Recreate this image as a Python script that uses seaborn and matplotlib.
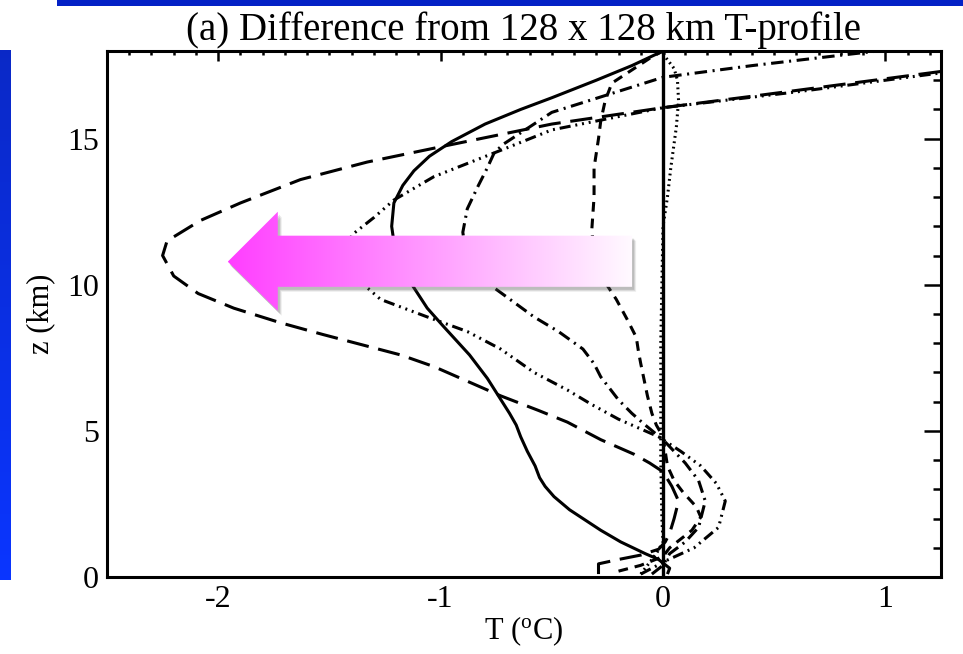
import numpy as np
import pandas as pd
import matplotlib
matplotlib.use("Agg")
import matplotlib.pyplot as plt
import seaborn as sns
from matplotlib.patches import Polygon, Rectangle
from matplotlib.ticker import MultipleLocator
from matplotlib import transforms

# Temperature difference profiles (deg C) against height z (km)
z_solid = [0.1, 0.3, 0.6, 0.8, 1.2, 1.6, 1.9, 2.3, 2.75, 3.1, 3.4, 3.8, 4.3, 4.8, 5.2, 5.6,
           6.2, 6.8, 7.6, 8.6, 9.2, 9.9, 10.5, 11.2, 12.0, 12.8, 13.4, 13.9, 14.4, 14.9,
           15.5, 16.0, 16.4, 17.0, 17.5, 18.0]
t_solid = [0.02, 0.03, -0.02, -0.08, -0.19, -0.28, -0.34, -0.42, -0.49, -0.53, -0.555, -0.575,
           -0.61, -0.64, -0.66, -0.69, -0.74, -0.79, -0.87, -0.99, -1.06, -1.12, -1.17, -1.205,
           -1.22, -1.21, -1.17, -1.12, -1.05, -0.95, -0.80, -0.64, -0.50, -0.30, -0.14, 0.0]

z_long = [0.1, 0.45, 0.6, 0.75, 0.95, 1.2, 1.5, 2.0, 2.6, 3.1, 3.6, 3.9, 4.2, 4.7, 5.3, 5.7,
          6.2, 6.7, 7.2, 7.6, 7.9, 8.3, 8.7, 9.2, 9.7, 10.3, 11.0, 11.5, 12.2, 12.8, 13.6,
          14.2, 14.8, 15.5, 16.06, 16.5, 16.9, 17.3, 17.6]
t_long = [-0.29, -0.29, -0.20, -0.10, -0.02, 0.01, 0.03, 0.05, 0.07, 0.04, 0.0, -0.06, -0.13,
          -0.28, -0.43, -0.56, -0.73, -0.88, -1.03, -1.18, -1.33, -1.53, -1.72, -1.93, -2.09,
          -2.20, -2.25, -2.23, -2.08, -1.90, -1.63, -1.33, -0.95, -0.50, 0.0, 0.45, 0.85,
          1.25, 1.55]

z_dash3dot = [0.1, 0.3, 0.58, 1.0, 1.7, 2.6, 3.2, 3.8, 4.3, 4.8, 5.4, 5.9, 6.4, 7.0, 7.8, 8.4,
              8.9, 9.5, 9.9, 10.5, 11.0, 11.7, 12.3, 12.9, 13.7, 14.6, 15.3, 16.06, 16.6,
              17.1, 17.4]
t_dash3dot = [-0.10, -0.05, 0.02, 0.14, 0.25, 0.28, 0.24, 0.17, 0.08, -0.02, -0.20, -0.32,
              -0.43, -0.58, -0.73, -0.88, -1.06, -1.27, -1.33, -1.38, -1.42, -1.40, -1.30,
              -1.21, -1.03, -0.73, -0.50, 0.0, 0.60, 1.10, 1.40]

z_dashdot = [0.1, 0.4, 0.8, 1.2, 1.7, 2.6, 3.3, 3.9, 4.3, 4.7, 5.2, 5.6, 6.06, 6.85, 7.3, 7.8,
             8.4, 8.9, 9.4, 9.9, 10.5, 11.2, 11.8, 12.6, 13.4, 14.0, 14.5, 14.8, 15.3, 15.9,
             16.5, 17.1, 17.5, 17.9, 18.2]
t_dashdot = [-0.05, 0.0, 0.03, 0.10, 0.16, 0.19, 0.16, 0.10, 0.05, 0.0, -0.08, -0.14, -0.20,
             -0.28, -0.31, -0.36, -0.47, -0.58, -0.67, -0.76, -0.84, -0.89, -0.90, -0.88,
             -0.83, -0.79, -0.76, -0.72, -0.62, -0.50, -0.25, 0.0, 0.40, 0.85, 1.20]

z_short = [0.2, 0.4, 0.7, 1.0, 1.3, 1.6, 2.05, 2.4, 2.9, 3.3, 3.8, 4.3, 4.8, 5.2, 5.6, 6.2,
           6.75, 7.3, 7.7, 8.2, 8.8, 9.5, 10.2, 11.0, 11.9, 13.0, 14.0, 15.0, 15.6, 16.3,
           16.9, 17.3, 17.8, 18.0]
t_short = [-0.20, -0.10, 0.0, 0.03, 0.08, 0.13, 0.17, 0.15, 0.09, 0.05, 0.02, 0.01, 0.0,
           -0.03, -0.05, -0.07, -0.085, -0.10, -0.11, -0.12, -0.16, -0.21, -0.27, -0.31,
           -0.32, -0.31, -0.31, -0.29, -0.28, -0.26, -0.23, -0.15, -0.05, 0.0]

z_dotted = [0.1, 0.3, 0.5, 0.8, 1.2, 2.0, 4.0, 8.0, 12.0, 13.0, 14.0, 15.4, 16.3, 17.0, 17.4,
            17.8, 18.0]
t_dotted = [-0.10, -0.08, -0.06, -0.03, 0.0, -0.005, -0.01, -0.01, 0.0, 0.02, 0.035, 0.06,
            0.07, 0.065, 0.05, 0.01, 0.0]

z_ref = [0.0, 18.0]
t_ref = [0.0, 0.0]

x_ticks = [-2, -1, 0, 1]
y_ticks = [0, 5, 10, 15]

profiles = {
    "solid": (z_solid, t_solid),
    "long dash": (z_long, t_long),
    "dash dot dot dot": (z_dash3dot, t_dash3dot),
    "dash dot": (z_dashdot, t_dashdot),
    "short dash": (z_short, t_short),
    "dotted": (z_dotted, t_dotted),
}
dash_map = {
    "solid": "",
    "long dash": (16, 7),
    "dash dot dot dot": (8, 3.5, 1.4, 3.5, 1.4, 3.5, 1.4, 3.5),
    "dash dot": (9, 4, 1.5, 4),
    "short dash": (7, 5),
    "dotted": (1.3, 2.6),
}

df = pd.concat(
    [pd.DataFrame({"T": t, "z": z, "run": name}) for name, (z, t) in profiles.items()],
    ignore_index=True,
)
ref = pd.DataFrame({"T": t_ref, "z": z_ref})

sns.set_style("white")
plt.rcParams.update({
    "font.family": ["Liberation Serif", "DejaVu Serif"],
    "mathtext.fontset": "custom",
    "mathtext.rm": "Liberation Serif",
    "axes.unicode_minus": False,
    "lines.scale_dashes": False,
    "lines.dash_capstyle": "butt",
    "lines.solid_capstyle": "butt",
    "text.color": "black",
    "axes.labelcolor": "black",
    "xtick.color": "black",
    "ytick.color": "black",
    "axes.edgecolor": "black",
})

fig = plt.figure(figsize=(9.63, 6.54), dpi=100)
ax = fig.add_axes([107 / 963, 77 / 654, 834 / 963, 526 / 654])

sns.lineplot(data=ref, x="T", y="z", sort=False, estimator=None, color="black",
             linewidth=2.4, ax=ax, legend=False)
sns.lineplot(data=df, x="T", y="z", style="run", dashes=dash_map, sort=False,
             estimator=None, color="black", linewidth=2.2, ax=ax, legend=False)

ax.set_xlim(-2.5, 1.25)
ax.set_ylim(0, 18)
ax.set_xticks(x_ticks)
ax.set_xticklabels([str(v) for v in x_ticks])
ax.set_yticks(y_ticks)
ax.set_yticklabels([str(v) for v in y_ticks])
ax.xaxis.set_minor_locator(MultipleLocator(0.1))
ax.yaxis.set_minor_locator(MultipleLocator(1))

ax.tick_params(axis="both", which="both", direction="in", top=True, right=True,
               width=1.8, color="black", labelcolor="black", labelsize=23)
ax.tick_params(axis="x", which="major", length=7, pad=6)
ax.tick_params(axis="x", which="minor", length=3)
ax.tick_params(axis="y", which="major", length=12, pad=6)
ax.tick_params(axis="y", which="minor", length=6)
for sp in ax.spines.values():
    sp.set_linewidth(2.2)
    sp.set_color("black")

ax.set_xlabel(r"T ($\mathrm{^{o}}$C)", fontsize=22, labelpad=0)
ax.set_ylabel("z (km)", fontsize=22, labelpad=8)
ax.set_title("(a) Difference from 128 x 128 km T-profile", fontsize=28, pad=8)

# Gradient arrow pointing towards colder values
tip_x, head_x, tail_x = -1.957, -1.732, -0.139
head_top, head_bot = 12.5, 9.11
shaft_top, shaft_bot, mid_z = 11.68, 9.93, 10.79
verts = [(tip_x, mid_z), (head_x, head_top), (head_x, shaft_top), (tail_x, shaft_top),
         (tail_x, shaft_bot), (head_x, shaft_bot), (head_x, head_bot)]

for dx, dy, a in [(4, -5, 0.10), (3, -4, 0.15), (2, -3, 0.2)]:
    off = transforms.offset_copy(ax.transData, fig=fig, x=dx, y=dy, units="dots")
    ax.add_patch(Polygon(verts, closed=True, facecolor="#555555", edgecolor="none",
                         alpha=a, transform=off, zorder=9))

arrow = Polygon(verts, closed=True, facecolor="none", edgecolor="none", zorder=10)
ax.add_patch(arrow)
g = np.linspace(62, 250, 256) / 255.0
grad = np.stack([np.ones_like(g), g, np.ones_like(g)], axis=-1)[None, :, :]
im = ax.imshow(grad, extent=[tip_x, tail_x, head_bot, head_top], aspect="auto",
               zorder=10, interpolation="bilinear")
im.set_clip_path(arrow)
ax.set_xlim(-2.5, 1.25)
ax.set_ylim(0, 18)

# Slide decoration bars
fig.patches.append(Rectangle((57 / 963, 1 - 6 / 654), 1, 6 / 654, transform=fig.transFigure,
                             facecolor="#0421c6", edgecolor="none", zorder=0))
bar_ax = fig.add_axes([0, 74 / 654, 10 / 963, 530 / 654])
vg = np.linspace(0, 1, 128)[:, None]
bar_rgb = np.stack([0.04 + 0.0 * vg, 0.16 + 0.05 * vg, 0.78 + 0.22 * vg], axis=-1)
bar_ax.imshow(bar_rgb, aspect="auto", extent=[0, 1, 1, 0])
bar_ax.set_axis_off()

fig.savefig("out.png", dpi=100)
